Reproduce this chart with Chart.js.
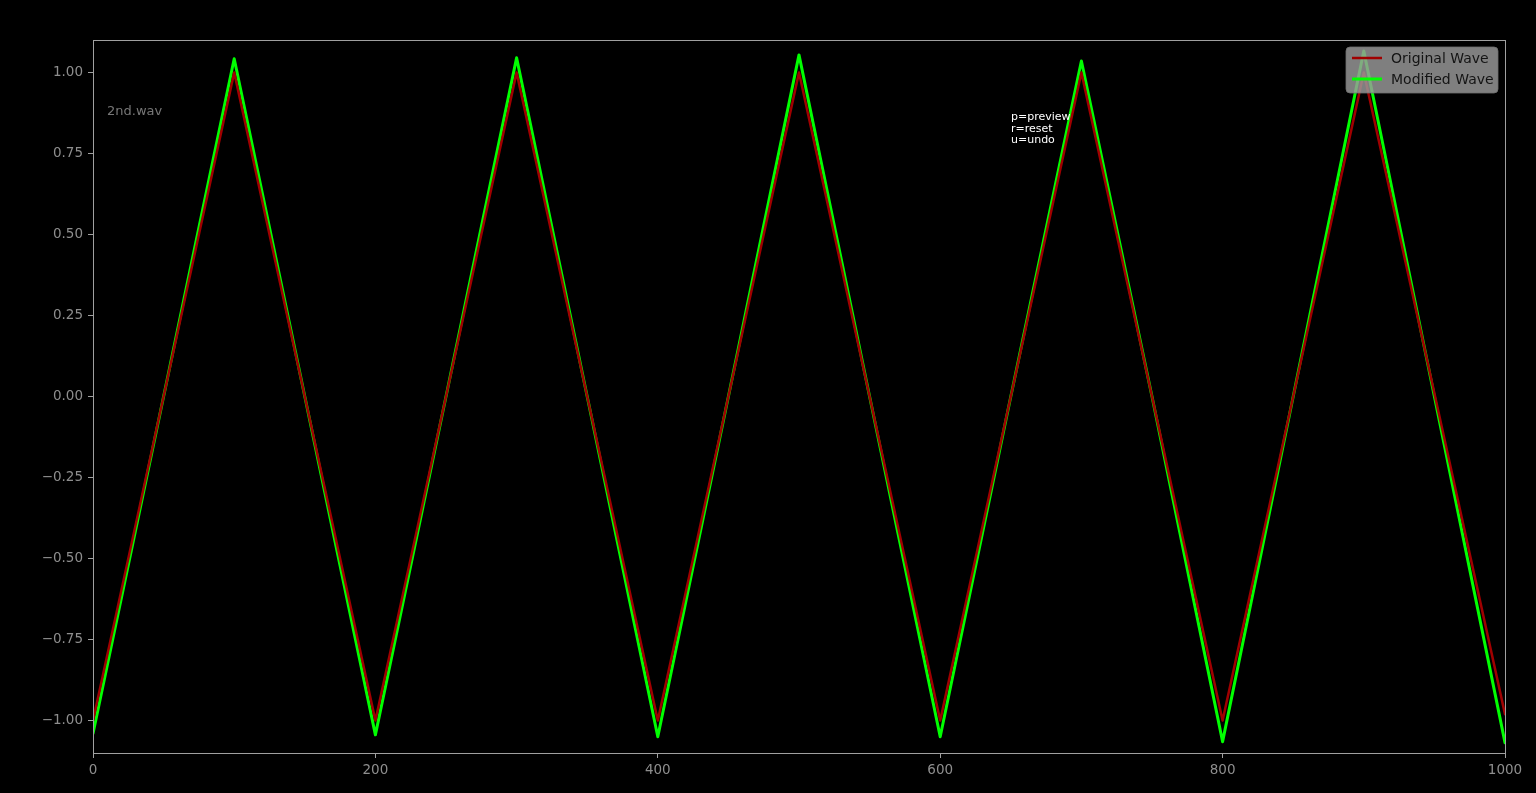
<!DOCTYPE html>
<html>
<head>
<meta charset="utf-8">
<script src="https://cdn.jsdelivr.net/npm/chart.js@4.4.1/dist/chart.umd.min.js"></script>
<style>
html,body{margin:0;padding:0;background:#000;}
#wrap{width:1536px;height:793px;position:relative;}
</style>
</head>
<body>
<div id="wrap"><canvas id="c" width="1536" height="793"></canvas></div>
<script>
// Data
const origX = [0, 100, 200, 300, 400, 500, 600, 700, 800, 900, 1000];
const origY = [-1.0, 1.0, -1.0, 1.0, -1.0, 1.0, -1.0, 1.0, -1.0, 1.0, -0.98];
const modX = [0, 50, 100, 150, 200, 250, 300, 350, 400, 450, 500, 550, 600, 650, 700, 750, 800, 850, 900, 950, 1000];
const modY = [-1.04, 0, 1.042, 0, -1.044, 0, 1.045, 0, -1.05, 0, 1.054, 0, -1.05, 0, 1.035, 0, -1.065, 0, 1.066, 0, -1.068];
const xTicks = [0, 200, 400, 600, 800, 1000];
const yTicks = [-1.0, -0.75, -0.5, -0.25, 0, 0.25, 0.5, 0.75, 1.0];
const seriesNames = ['Original Wave', 'Modified Wave'];
const fileLabel = '2nd.wav';
const helpLines = ['p=preview', 'r=reset', 'u=undo'];

const FONT = '"DejaVu Sans", sans-serif';
const AXIS = '#a0a0a0';
const TICKTXT = '#8e8e8e';

const toPts = (xs, ys) => xs.map((x, i) => ({x, y: ys[i]}));

const overlayPlugin = {
  id: 'overlay',
  beforeDraw(chart) {
    const ctx = chart.ctx;
    ctx.save();
    ctx.fillStyle = '#000';
    ctx.fillRect(0, 0, chart.width, chart.height);
    ctx.restore();
  },
  afterDatasetsDraw(chart) {
    const ctx = chart.ctx;
    const a = chart.chartArea;
    ctx.save();
    ctx.strokeStyle = AXIS;
    ctx.lineWidth = 1;
    ctx.strokeRect(Math.round(a.left) + 0.5, Math.round(a.top) + 0.5, Math.round(a.right - a.left), Math.round(a.bottom - a.top));
    ctx.font = '13px ' + FONT;
    ctx.fillStyle = '#777777';
    ctx.textBaseline = 'middle';
    ctx.fillText(fileLabel, 107, 112);
    ctx.font = '11px ' + FONT;
    ctx.fillStyle = '#ffffff';
    helpLines.forEach((t, i) => ctx.fillText(t, 1011, 117 + i * 11.7));
    const bx = 1346, by = 47, bw = 152, bh = 46, r = 4;
    ctx.beginPath();
    ctx.moveTo(bx + r, by);
    ctx.lineTo(bx + bw - r, by);
    ctx.quadraticCurveTo(bx + bw, by, bx + bw, by + r);
    ctx.lineTo(bx + bw, by + bh - r);
    ctx.quadraticCurveTo(bx + bw, by + bh, bx + bw - r, by + bh);
    ctx.lineTo(bx + r, by + bh);
    ctx.quadraticCurveTo(bx, by + bh, bx, by + bh - r);
    ctx.lineTo(bx, by + r);
    ctx.quadraticCurveTo(bx, by, bx + r, by);
    ctx.closePath();
    ctx.fillStyle = 'rgba(155,155,155,0.82)';
    ctx.fill();
    ctx.strokeStyle = 'rgba(110,110,110,0.8)';
    ctx.lineWidth = 1;
    ctx.stroke();
    chart.data.datasets.forEach((ds, i) => {
      const y = 58 + i * 21;
      ctx.strokeStyle = ds.borderColor;
      ctx.lineWidth = ds.borderWidth;
      ctx.beginPath();
      ctx.moveTo(1352, y);
      ctx.lineTo(1382, y);
      ctx.stroke();
      ctx.fillStyle = '#141414';
      ctx.font = '14px ' + FONT;
      ctx.textBaseline = 'middle';
      ctx.fillText(ds.label, 1391, y + 1);
    });
    ctx.restore();
  }
};

const fmtY = v => (v < 0 ? '\u2212' : '') + Math.abs(v).toFixed(2);

new Chart(document.getElementById('c'), {
  type: 'line',
  data: {
    datasets: [
      {label: seriesNames[0], data: toPts(origX, origY), borderColor: '#a00000', borderWidth: 2.5, pointRadius: 0, tension: 0, fill: false, borderJoinStyle: 'round', borderCapStyle: 'round'},
      {label: seriesNames[1], data: toPts(modX, modY), borderColor: '#00ff00', borderWidth: 3, pointRadius: 0, tension: 0, fill: false, borderJoinStyle: 'round', borderCapStyle: 'round'}
    ]
  },
  options: {
    responsive: false,
    animation: false,
    layout: {padding: {left: 0, right: 31, top: 40, bottom: 0}},
    plugins: {legend: {display: false}, tooltip: {enabled: false}},
    scales: {
      x: {
        type: 'linear', min: 0, max: 1000,
        afterBuildTicks: s => { s.ticks = xTicks.map(v => ({value: v})); },
        afterFit: s => { s.height = 40; },
        ticks: {color: TICKTXT, font: {family: FONT, size: 13.5}, padding: 4, maxRotation: 0, callback: v => String(v)},
        grid: {display: true, drawOnChartArea: false, color: AXIS, tickLength: 5, tickWidth: 1},
        border: {display: true, color: AXIS}
      },
      y: {
        type: 'linear', min: -1.1, max: 1.1,
        afterBuildTicks: s => { s.ticks = yTicks.map(v => ({value: v})); },
        afterFit: s => { s.width = 93; },
        ticks: {color: TICKTXT, font: {family: FONT, size: 13.5}, padding: 5, callback: v => fmtY(v)},
        grid: {display: true, drawOnChartArea: false, color: AXIS, tickLength: 5, tickWidth: 1},
        border: {display: true, color: AXIS}
      }
    }
  },
  plugins: [overlayPlugin]
});
</script>
</body>
</html>
